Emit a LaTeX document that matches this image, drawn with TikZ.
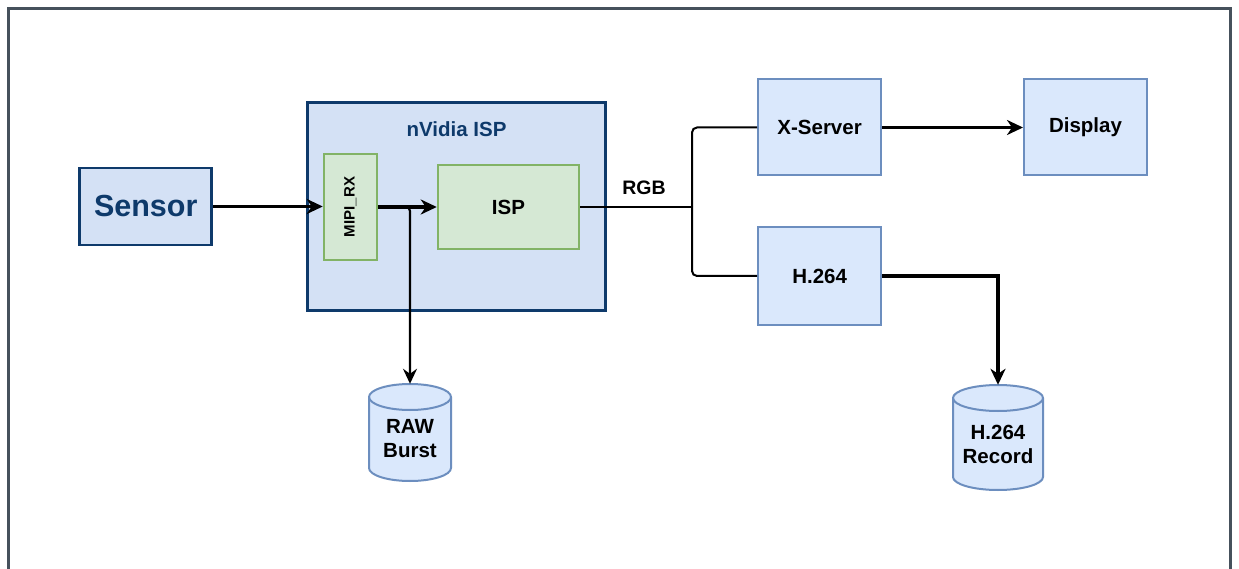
\documentclass[tikz,border=0pt]{standalone}
\usepackage{fontspec}
\setmainfont{Liberation Sans}
\usetikzlibrary{arrows.meta,calc}
\definecolor{framec}{HTML}{46515C}
\definecolor{navy}{HTML}{0E3A6B}
\definecolor{navyfill}{HTML}{D4E1F5}
\definecolor{gfill}{HTML}{D5E8D4}
\definecolor{gline}{HTML}{82B366}
\definecolor{bfill}{HTML}{DAE8FC}
\definecolor{bline}{HTML}{6C8EBF}
\tikzset{
  x=1pt,y=1pt,
  txt/.style={font=\fontsize{20.5}{24}\selectfont\bfseries, align=center},
  bluebox/.style={draw=bline, fill=bfill, line width=2pt, minimum width=123pt, minimum height=96pt, txt},
  greenbox/.style={draw=gline, fill=gfill, line width=2.5pt, txt},
  navybox/.style={draw=navy, fill=navyfill, line width=2.6pt},
  cylstyle/.style={draw=bline, fill=bfill, line width=2pt},
  thickarrow/.style={line width=3.2pt, -{Stealth[length=16pt,width=15pt,inset=5pt]}},
  thinarrow/.style={line width=2.2pt, -{Stealth[length=15pt,width=14pt,inset=5pt]}},
  thinline/.style={line width=2pt},
}
\begin{document}
\begin{tikzpicture}
\useasboundingbox (0,0) rectangle (1239,-569);
\fill[white] (0,0) rectangle (1239,-569);
% frame
\draw[framec, line width=3pt] (8.5,-570) -- (8.5,-8.5) -- (1230,-8.5) -- (1230,-570);

% nVidia ISP container
\node[navybox, minimum width=298pt, minimum height=208pt] (outer) at (456.5,-206.5) {};
\node[txt, text=navy] (outerlbl) at (456.5,-129) {nVidia ISP};

% Sensor
\node[navybox, minimum width=132pt, minimum height=77pt, text=navy,
      font=\fontsize{30.5}{34}\selectfont\bfseries] (sensor) at (145.7,-206.5) {Sensor};

% MIPI_RX
\node[greenbox, minimum width=53pt, minimum height=106pt] (mipi) at (350.5,-207) {};
\node[rotate=90, font=\fontsize{15}{17}\selectfont\bfseries] (mipilbl) at (mipi.center) {MIPI\_RX};

% ISP
\node[greenbox, minimum width=141pt, minimum height=84pt] (isp) at (508.5,-207) {ISP};

% X-Server, Display, H.264
\node[bluebox] (xserver) at (819.6,-127.5) {X-Server};
\node[bluebox] (display) at (1085.5,-127.5) {Display};
\node[bluebox, minimum height=98pt] (h264) at (819.6,-276) {H.264};

% RAW Burst cylinder
\node[minimum width=82pt, minimum height=97pt, inner sep=0pt] (raw) at (410,-432.5) {};
\path[cylstyle] (369,-397) -- (369,-468) arc[start angle=180,end angle=360,x radius=41,y radius=13]
   -- (451,-397) arc[start angle=0,end angle=180,x radius=41,y radius=13] -- cycle;
\draw[cylstyle, fill=none] (369,-397) arc[start angle=180,end angle=360,x radius=41,y radius=13];
\node[txt] (rawlbl) at ($(raw.center)+(0,-6)$) {RAW\\Burst};

% H.264 Record cylinder
\node[minimum width=90pt, minimum height=105pt, inner sep=0pt] (rec) at (998,-437.5) {};
\path[cylstyle] (953,-398) -- (953,-477) arc[start angle=180,end angle=360,x radius=45,y radius=13]
   -- (1043,-398) arc[start angle=0,end angle=180,x radius=45,y radius=13] -- cycle;
\draw[cylstyle, fill=none] (953,-398) arc[start angle=180,end angle=360,x radius=45,y radius=13];
\node[txt] (reclbl) at ($(rec.center)+(0,-7)$) {H.264\\Record};

% connectors
\draw[thickarrow] (sensor.east) -- (mipi.west |- sensor.east);
\draw[thickarrow] (mipi.east) -- (isp.west);
\coordinate (brk) at (raw.north |- mipi.east);
\draw[thinarrow, rounded corners=4pt] (mipi.east) -- (brk) -- (raw.north);

\coordinate (rgbj) at (692,-207);
\draw[thinline] (isp.east) -- (rgbj);
\draw[thinline, rounded corners=5pt] (rgbj) |- (xserver.west);
\draw[thinline, rounded corners=5pt] (rgbj) |- (h264.west);
\node[font=\fontsize{19.5}{22}\selectfont\bfseries] (rgb) at (644,-187.5) {RGB};

\draw[thickarrow] (xserver.east) -- (display.west);
\draw[thickarrow] (h264.east) -| (rec.north);
\end{tikzpicture}
\end{document}
